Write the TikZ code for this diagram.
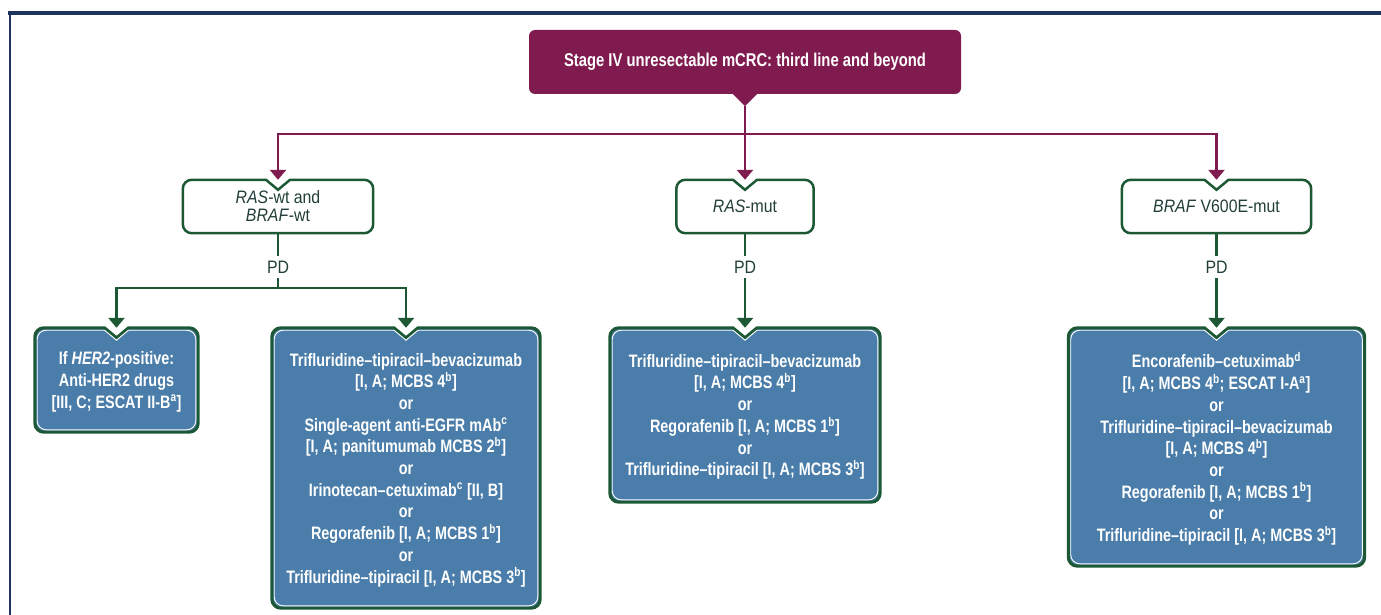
\documentclass[tikz,border=0pt]{standalone}
\usepackage{fontspec}
\setmainfont[FakeStretch=0.8]{Liberation Sans}
\newfontfamily\genefont[FakeStretch=0.88]{Liberation Sans}
\usepackage{tikz}
\usetikzlibrary{arrows.meta,positioning,backgrounds}
\definecolor{plum}{RGB}{128,27,79}
\definecolor{boxgreen}{RGB}{28,88,52}
\definecolor{steel}{RGB}{74,125,169}
\definecolor{framenavy}{RGB}{30,52,92}
\definecolor{labeltext}{RGB}{34,62,56}

% outline of a box with a notch on top: #1 node, #2 inset
\newcommand{\notchpath}[2]{([xshift=-12pt,yshift=-#2]#1.north) -- ([yshift=-10pt-#2]#1.north) -- ([xshift=12pt,yshift=-#2]#1.north) [rounded corners=9pt] -- ([xshift=-#2,yshift=-#2]#1.north east) -- ([xshift=-#2,yshift=#2]#1.south east) -- ([xshift=#2,yshift=#2]#1.south west) -- ([xshift=#2,yshift=-#2]#1.north west) [sharp corners] -- cycle}

\begin{document}
\begin{tikzpicture}[x=1pt,y=-1pt,
    topbox/.style={fill=plum, rounded corners=6pt, text=white, inner sep=0pt,
      font=\bfseries\fontsize{18.5}{21}\selectfont},
    gene/.style={inner sep=0pt, align=center, text=labeltext,
      font=\genefont\fontsize{18}{18}\selectfont},
    therapy/.style={inner sep=0pt, align=center, text=white, text depth=-2pt,
      font=\bfseries\fontsize{18}{21.7}\selectfont},
    pd/.style={inner sep=5pt, text=labeltext, font=\genefont\fontsize{18}{20}\selectfont},
    plumline/.style={draw=plum, line width=2.5pt},
    plumarrow/.style={plumline, -{Triangle[width=16pt,length=10pt]}},
    greenline/.style={draw=boxgreen, line width=2.5pt},
    greenarrow/.style={greenline, -{Triangle[width=16pt,length=10pt]}}]
  \useasboundingbox (0,0) rectangle (1381,615);

  % Frame
  \draw[framenavy, line width=3.5pt] (8,13) -- (1381,13);
  \draw[framenavy, line width=2.5pt] (10,13) -- (10,615);

  % Title
  \node[topbox, minimum width=432pt, minimum height=64pt] (stage) at (745,62)
    {Stage IV unresectable mCRC: third line and beyond};
  \fill[plum] ([xshift=-13pt,yshift=1pt]stage.south) -- ([yshift=-12pt]stage.south)
    -- ([xshift=13pt,yshift=1pt]stage.south) -- cycle;

  % Mutation status
  \node[gene, minimum width=190pt, minimum height=53pt] (wt) at (278,206.5)
    {\textit{RAS}-wt and\\\textit{BRAF}-wt};
  \node[gene, minimum width=137pt, minimum height=53pt] (mut) at (745,206.5)
    {\textit{RAS}-mut};
  \node[gene, minimum width=189pt, minimum height=53pt] (braf) at (1216.5,206.5)
    {\textit{BRAF} V600E-mut};
  \foreach \n in {wt,mut,braf}
    \draw[greenline] \notchpath{\n}{0pt};

  % Progression
  \node[pd] (pd1) at (278,267) {PD};
  \node[pd] (pd2) at (745,267) {PD};
  \node[pd] (pd3) at (1216.5,267) {PD};

  % Treatment options
  \node[therapy, minimum width=163pt, minimum height=104pt] (her) at (116.5,380)
    {If \textit{HER2}-positive:\\Anti-HER2 drugs\\{[III, C; ESCAT II-B\textsuperscript{a}]}};
  \node[therapy, minimum width=268pt, minimum height=280pt] (egfr) at (406,468)
    {Trifluridine–tipiracil–bevacizumab\\{[I, A; MCBS 4\textsuperscript{b}]}\\or\\
     Single-agent anti-EGFR mAb\textsuperscript{c}\\{[I, A; panitumumab MCBS 2\textsuperscript{b}]}\\or\\
     Irinotecan–cetuximab\textsuperscript{c} [II, B]\\or\\
     Regorafenib [I, A; MCBS 1\textsuperscript{b}]\\or\\
     Trifluridine–tipiracil [I, A; MCBS 3\textsuperscript{b}]};
  \node[therapy, minimum width=270pt, minimum height=174pt] (rmut) at (745,415)
    {Trifluridine–tipiracil–bevacizumab\\{[I, A; MCBS 4\textsuperscript{b}]}\\or\\
     Regorafenib [I, A; MCBS 1\textsuperscript{b}]\\or\\
     Trifluridine–tipiracil [I, A; MCBS 3\textsuperscript{b}]};
  \node[therapy, minimum width=296pt, minimum height=238pt] (bopt) at (1216.5,447)
    {Encorafenib–cetuximab\textsuperscript{d}\\{[I, A; MCBS 4\textsuperscript{b}; ESCAT I-A\textsuperscript{a}]}\\or\\
     Trifluridine–tipiracil–bevacizumab\\{[I, A; MCBS 4\textsuperscript{b}]}\\or\\
     Regorafenib [I, A; MCBS 1\textsuperscript{b}]\\or\\
     Trifluridine–tipiracil [I, A; MCBS 3\textsuperscript{b}]};
  \begin{scope}[on background layer]
    \foreach \n in {her,egfr,rmut,bopt} {
      \fill[steel] \notchpath{\n}{0pt};
      \draw[boxgreen, line width=3pt] \notchpath{\n}{0pt};
      \draw[white, line width=0.9pt] \notchpath{\n}{2.4pt};
    }
  \end{scope}

  % Connectors
  \coordinate (tj) at (745,134);
  \draw[plumline] ([yshift=-12pt]stage.south) -- (tj);
  \draw[plumarrow] (tj) -| (wt.north);
  \draw[plumarrow] (tj) -- (mut.north);
  \draw[plumarrow] (tj) -| (braf.north);

  \coordinate (bj) at (278,288);
  \draw[greenline] (wt) -- (pd1);
  \draw[greenline] (pd1) -- (bj);
  \draw[greenarrow] (bj) -| (her.north);
  \draw[greenarrow] (bj) -| (egfr.north);
  \draw[greenline] (mut) -- (pd2);
  \draw[greenarrow] (pd2) -- (rmut.north);
  \draw[greenline] (braf) -- (pd3);
  \draw[greenarrow] (pd3) -- (bopt.north);
\end{tikzpicture}
\end{document}
